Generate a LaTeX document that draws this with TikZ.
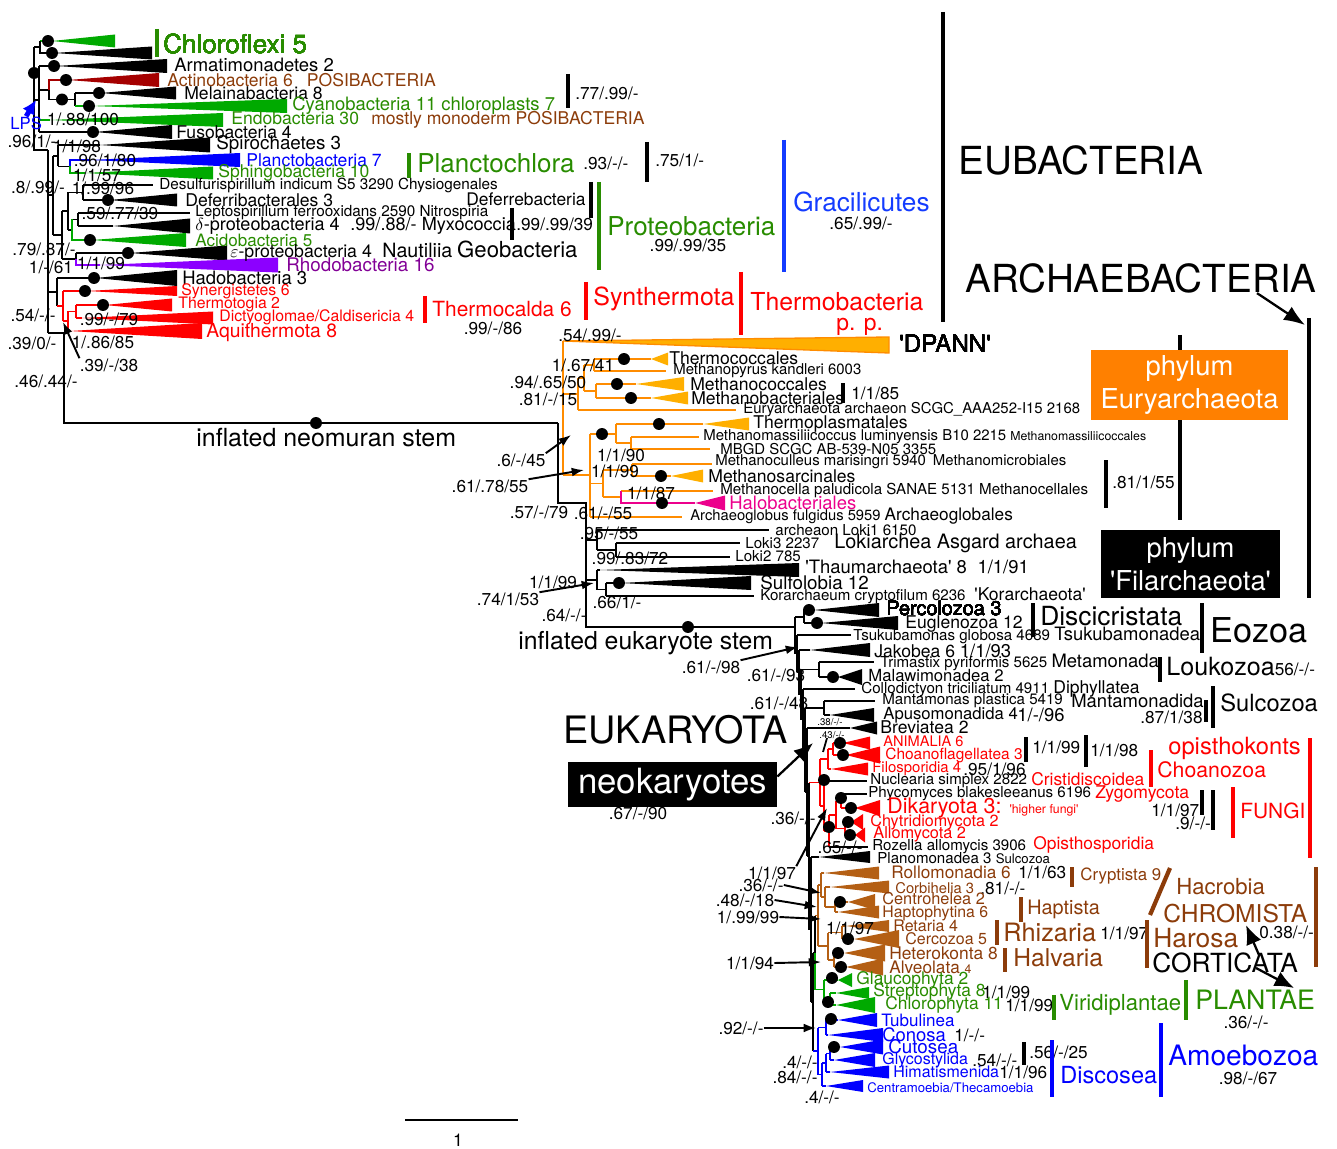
\documentclass[tikz,border=0pt]{standalone}
\usepackage{fontspec}
\setmainfont{TeX Gyre Heros}
\usetikzlibrary{arrows.meta}
\definecolor{grtri}{RGB}{0,170,0}
\definecolor{grtxt}{RGB}{40,140,0}
\definecolor{brtxt}{RGB}{140,60,10}
\definecolor{brtri}{RGB}{180,95,20}
\definecolor{dkred}{RGB}{165,0,0}
\definecolor{purtri}{RGB}{140,0,255}
\definecolor{purtxt}{RGB}{130,0,150}
\definecolor{orln}{RGB}{255,140,0}
\definecolor{ortri}{RGB}{255,175,0}
\definecolor{orbox}{RGB}{255,128,0}
\definecolor{gblue}{RGB}{20,60,255}
% collapsed clade: apex x, right x, y, half height, colour
\newcommand\clade[5]{\fill[#5] (#1,#3) -- (#2,{#3-#4}) -- (#2,{#3+#4}) -- cycle;}
\newcommand\dt[2]{\fill (#1,#2) circle[radius=3.4pt];}
\newcommand\qs{\textquotesingle}
\newcommand\fz[1]{\fontsize{#1}{#1}\selectfont}
\tikzset{
  lbl/.style={anchor=west, inner sep=0pt, font=\fontsize{#1}{#1}\selectfont},
  lbl/.default=10,
  bsv/.style={inner sep=0pt, font=\fontsize{#1}{#1}\selectfont},
  bsv/.default=9.8,
  tree/.style={line width=0.75pt},
  bar/.style={line width=2.4pt},
  pt/.style={-{Latex[length=7pt,width=5pt]}, line width=1.1pt},
  bigpt/.style={-{Latex[length=11pt,width=9pt]}, line width=1.3pt}
}
\begin{document}
\begin{tikzpicture}[x=0.02cm,y=-0.02cm]
\useasboundingbox (0,0) rectangle (1337,1148);
% ---------------- eubacteria
\clade{52}{115}{41}{6.5}{grtri}
\clade{54}{152}{53}{6.5}{black}
\clade{56}{167}{66}{7}{black}
\clade{68}{159}{80}{7}{dkred}
\clade{101}{176}{93}{6.5}{black}
\clade{91}{287}{106}{7}{grtri}
\clade{50}{223}{120}{7}{grtri}
\clade{95}{172}{132}{7}{black}
\clade{100}{210}{145}{7.5}{black}
\clade{90}{240}{160}{7}{blue}
\clade{85}{213}{173}{6.5}{grtri}
\clade{110}{177}{200}{6.5}{black}
\clade{113}{190}{226}{7.5}{black}
\clade{92}{186}{240}{7}{grtri}
\clade{130}{227}{253}{7.5}{black}
\clade{100}{278}{265}{7.5}{purtri}
\clade{96}{177}{278}{8}{black}
\clade{87}{177}{291}{5}{red}
\clade{105}{172}{305}{6.5}{red}
\clade{82}{213}{318}{6.5}{red}
\clade{70}{202}{331}{8}{red}
\draw[tree,grtri] (40,41) -- (52,41);
\draw[tree] (40,41) -- (40,53) -- (54,53) (34,47) -- (40,47)
  (34,47) -- (34,150) -- (48,150) (34,100) -- (39,100)
  (39,66) -- (39,132) (39,66) -- (56,66) (39,90) -- (49,90) (39,132) -- (95,132)
  (49,90) -- (49,99.5) -- (75,99.5) (75,93) -- (75,106) (75,93) -- (101,93);
\draw[tree,dkred] (49,90) -- (49,80) -- (68,80);
\draw[tree,grtri] (75,106) -- (91,106) (39,120) -- (50,120);
\draw[tree] (48,150) -- (48,333) (48,195) -- (53,195) (48,292) -- (57,292)
  (48,333) -- (64,333) -- (64,423) -- (558,423)
  (53,156) -- (53,235) (53,156) -- (58,156) (53,235) -- (62,235)
  (58,145) -- (58,166.5) (58,145) -- (100,145) (58,166.5) -- (70,166.5)
  (62,211) -- (62,259) (62,211) -- (68,211) (62,259) -- (76,259)
  (68,192.5) -- (68,230) (68,192.5) -- (83,192.5) (68,230) -- (72,230)
  (83,185) -- (83,200) (83,185) -- (153,185) (83,200) -- (110,200)
  (72,219.5) -- (78,219.5)
  (78,213) -- (78,226) (78,213) -- (190,213) (78,226) -- (113,226)
  (76,253) -- (76,259) (76,253) -- (130,253)
  (57,278) -- (57,306) (57,278) -- (96,278);
\draw[tree,blue] (70,166.5) -- (70,160) -- (90,160);
\draw[tree,grtri] (70,166.5) -- (70,173) -- (85,173) (72,219.5) -- (72,240) -- (92,240);
\draw[tree,purtri] (76,259) -- (76,265) -- (100,265);
\draw[tree,red] (57,306) -- (63,306) (63,291) -- (63,321) (63,291) -- (87,291) (63,321) -- (68,321)
  (68,311.5) -- (68,331) (68,311.5) -- (76,311.5) (68,331) -- (70,331)
  (76,305) -- (76,318) (76,305) -- (105,305) (76,318) -- (82,318);
\foreach \x/\y in {48/41,52/53,54/66,66/80,99/93,62/99.5,89/106,34/73,93/132,
  108/200,90/240,128/253,94/278,85/291,103/305,316/423}
  \dt{\x}{\y}
% eubacteria labels
\node[lbl=14.8,grtxt] (chlf) at (163,44) {Chloroflexi 5};
\draw[bar,grtxt] (157,29) -- (157,57);
\node[lbl=10.5] (arma) at (174,65) {Armatimonadetes 2};
\node[lbl,brtxt] (acti) at (167,80) {Actinobacteria 6\hspace{8pt}POSIBACTERIA};
\node[lbl] (mela) at (184,93) {Melainabacteria 8};
\node[lbl=10.5,grtxt] (cyan) at (292,106) {Cyanobacteria 11 chloroplasts 7};
\node[lbl] (endo) at (231,120) {\textcolor{grtxt}{Endobacteria 30}\hspace{7pt}\textcolor{brtxt}{mostly monoderm POSIBACTERIA}};
\node[lbl] (fuso) at (176,132) {Fusobacteria 4};
\node[lbl=10.7] (spir) at (216,145) {Spirochaetes 3};
\node[lbl,blue] (plnb) at (246,160) {Planctobacteria 7};
\node[lbl,grtxt] (sphi) at (218,173) {Sphingobacteria 10};
\node[lbl=8.7] (desu) at (159,185) {Desulfurispirillum indicum S5 3290 Chysiogenales};
\node[lbl] (defb) at (185,200) {Deferribacterales 3};
\node[lbl=8.7] (lept) at (195,213) {Leptospirillum ferrooxidans 2590 Nitrospiria};
\node[lbl=10.3] (delt) at (195,226) {$\delta$-proteobacteria 4\hspace{6pt}.99/.88/- Myxococcia};
\node[lbl=9.7,grtxt] (acid) at (195,240) {Acidobacteria 5};
\node[lbl=10.1] (epsi) at (230,251) {$\varepsilon$-proteobacteria 4\hspace{6pt}{\fz{11.2}Nautiliia} {\fz{12.6}Geobacteria}};
\node[lbl=10.7,purtxt] (rhod) at (286,265) {Rhodobacteria 16};
\node[lbl=10.5] (hado) at (182,278) {Hadobacteria 3};
\node[lbl=9,red] (syne) at (181,291) {Synergistetes 6};
\node[lbl=9,red] (ttog) at (178,304) {Thermotogia 2};
\node[lbl=9,red] (dict) at (219,317) {Dictyoglomae/Caldisericia 4};
\node[lbl=11,red] (aqui) at (206,333) {Aquithermota 8};
\node[lbl=9.5,blue] (lps) at (10,123) {LPS};
\draw[-{Latex[length=8pt,width=8pt]},line width=2.8pt,blue] (lps.north) -- (36,100);
% eubacteria support values
\node[bsv] (s1) at (32,141) {.96/1/-};
\node[bsv] (s2) at (83,119) {1/.88/100};
\node[bsv] (s3) at (77,146) {1/1/98};
\node[bsv] (s4) at (105,160) {.96/1/80};
\node[bsv] (s5) at (97,175) {1/1/57};
\node[bsv] (s6) at (38,187) {.8/.99/-};
\node[bsv] (s7) at (103,188) {1/.99/96};
\node[bsv] (s8) at (120,213) {.59/.77/39};
\node[bsv] (s9) at (44,249) {.79/.87/-};
\node[bsv] (s10) at (51,267) {1/-/61};
\node[bsv] (s11) at (101,263) {1/1/99};
\node[bsv] (s12) at (33,315) {.54/-/-};
\node[bsv] (s13) at (109,319) {.99/-/79};
\node[bsv] (s14) at (32,343) {.39/0/-};
\node[bsv] (s15) at (103,342) {1/.86/85};
\node[bsv] (s16) at (109,365) {.39/-/38};
\node[bsv] (s17) at (46,381) {.46/.44/-};
\coordinate (thr) at (63,322);
\draw[pt] (s16.north west) -- (thr);
% groups to the right of eubacteria
\node[bsv,anchor=west] (s18) at (575,93) {.77/.99/-};
\draw[bar] (568,74) -- (568,108);
\node[lbl=14.8,grtxt] (plch) at (417,163) {Planctochlora};
\draw[bar,grtxt] (409,153) -- (409,178);
\node[bsv,anchor=west] (s19) at (583,163) {.93/-/-};
\draw[bar] (647,142) -- (647,182);
\node[bsv,anchor=west] (s20) at (655,160) {.75/1/-};
\node[lbl=9.9] (defe) at (466,199) {Deferrebacteria};
\draw[bar] (591,182) -- (591,218);
\draw[bar,grtxt] (599,182) -- (599,270);
\draw[bar] (512,208) -- (512,240);
\node[bsv,anchor=west] (s21) at (516,224) {.99/.99/39};
\node[lbl=14.8,grtxt] (prot) at (607,226) {Proteobacteria};
\node[bsv] (s22) at (688,245) {.99/.99/35};
\node[lbl=14.9,gblue] (grac) at (793,202) {Gracilicutes};
\draw[bar,gblue] (784,140) -- (784,272);
\node[bsv] (s23) at (861,223) {.65/.99/-};
\node[lbl=22] (euba) at (958,160) {EUBACTERIA};
\draw[bar] (943,12) -- (943,322);
\node[lbl=11.9,red] (tcal) at (432,309) {Thermocalda 6};
\draw[bar,red] (425,296) -- (425,323);
\node[bsv] (s24) at (493,328) {.99/-/86};
\node[lbl=14.2,red] (synt) at (593,299) {Synthermota};
\draw[bar,red] (586,282) -- (586,320);
\node[lbl=14.1,red] (tbac) at (750,302) {Thermobacteria};
\node[lbl=13,red] (ppar) at (836,327) {p. p.};
\draw[bar,red] (741,272) -- (741,335);
\node[lbl=22] (arch) at (965,278) {ARCHAEBACTERIA};
\coordinate (archtop) at (1305,325);
\draw[-{Latex[length=12pt,width=9pt]},line width=1.3pt] (arch.south east) ++(-60,0) -- (archtop);
\draw[bar] (1309,318) -- (1309,598);
% ---------------- archaea
\filldraw[fill=ortri,draw=orln,tree] (563,341) -- (889,337) -- (889,353) -- cycle;
\clade{651}{668}{359}{6.5}{ortri}
\clade{636}{684}{384}{7}{ortri}
\clade{651}{688}{398}{6.5}{ortri}
\clade{703}{749}{424}{6.5}{ortri}
\clade{671}{703}{476}{6.5}{ortri}
\clade{695}{725}{503}{7.5}{magenta}
\clade{600}{799}{570}{7}{black}
\clade{621}{751}{583}{7}{black}
\draw[tree] (558,423) -- (558,503) -- (586,503) -- (586,627) -- (795,627)
  (586,540) -- (597,540) (597,530) -- (597,550) (597,530) -- (769,530) (597,550) -- (616,550)
  (616,543) -- (616,557) (616,543) -- (740,543) (616,557) -- (730,557)
  (586,580) -- (597,580) (597,570) -- (597,589.5) (597,570) -- (600,570) (597,589.5) -- (606,589.5)
  (606,583) -- (606,596) (606,583) -- (621,583) (606,596) -- (754,596);
\draw[tree,orln] (563,341) -- (563,475) (563,394) -- (578,394) (563,475) -- (590,475)
  (578,378) -- (578,410) (578,378) -- (584,378) (578,410) -- (736,410)
  (584,365) -- (584,391) (584,365) -- (594,365) (584,391) -- (596,391)
  (594,359) -- (594,371) (594,359) -- (651,359) (594,371) -- (666,371)
  (596,384) -- (596,398) (596,384) -- (636,384) (596,398) -- (651,398)
  (590,434) -- (590,517) (590,434) -- (616,434) (590,483.5) -- (603,483.5) (590,517) -- (682,517)
  (616,424) -- (616,443) (616,424) -- (703,424) (616,443) -- (631,443)
  (631,437) -- (631,449) (631,437) -- (699,437) (631,449) -- (710,449)
  (603,470) -- (603,497) (603,470) -- (632,470) (603,497) -- (621,497)
  (632,464) -- (632,476) (632,464) -- (712,464) (632,476) -- (671,476)
  (621,491) -- (713,491);
\draw[tree,magenta] (621,491) -- (621,503) -- (695,503);
\foreach \x/\y in {624/359,617/384,631/398,659/424,602/434,661/476,662/503,619/583,688/627}
  \dt{\x}{\y}
% archaea labels
\node[lbl=13.7] (dpan) at (899,344) {\qs DPANN\qs};
\node[lbl] (tcoc) at (669,358) {Thermococcales};
\node[lbl=8.5] (mpyr) at (673,371) {Methanopyrus kandleri 6003};
\node[lbl] (mcoc) at (690,384) {Methanococcales};
\node[lbl] (mbac) at (691,398) {Methanobacteriales};
\draw[bar] (843,383) -- (843,403);
\node[bsv,anchor=west] (s25) at (851,393) {1/1/85};
\node[lbl=8.5] (eurs) at (743,410) {Euryarchaeota archaeon SCGC\_AAA252-I15 2168};
\node[lbl] (tpla) at (753,424) {Thermoplasmatales};
\node[lbl=8.5] (mmas) at (703,437) {Methanomassiliicoccus luminyensis B10 2215 {\fz{7}Methanomassiliicoccales}};
\node[lbl=8.5] (mbgd) at (720,449) {MBGD SCGC AB-539-N05 3355};
\node[lbl=8.5] (mcul) at (715,462) {Methanoculleus marisingri 5940\hspace{4pt}Methanomicrobiales};
\node[lbl] (msar) at (708,476) {Methanosarcinales};
\node[lbl=8.6] (mcel) at (720,491) {Methanocella paludicola SANAE 5131 Methanocellales};
\node[lbl=10.5,magenta] (halo) at (729,503) {Halobacteriales};
\node[lbl=8.4] (aglo) at (690,516) {Archaeoglobus fulgidus 5959 {\fz{9.8}Archaeoglobales}};
\node[lbl=8.6] (lok1) at (775,530) {archeaon Loki1 6150};
\node[lbl=8.6] (lok3) at (745,543) {Loki3 2237};
\node[lbl=8.6] (lok2) at (735,556) {Loki2 785};
\node[lbl=11.3] (asga) at (834,543) {Lokiarchea Asgard archaea};
\node[lbl=10.5] (thau) at (805,567) {\qs Thaumarchaeota\qs\ 8\hspace{6pt}1/1/91};
\node[lbl=10.7] (sulf) at (760,583) {Sulfolobia 12};
\node[lbl=8.6] (kora) at (760,596) {Korarchaeum cryptofilum 6236\hspace{5pt}{\fz{10}\qs Korarchaeota\qs}};
\node[bsv] (s26) at (590,335) {.54/.99/-};
\node[bsv] (s27) at (583,365) {1/.67/41};
\node[bsv] (s28) at (548,382) {.94/.65/50};
\node[bsv] (s29) at (548,399) {.81/-/15};
\node[bsv] (s30) at (621,455) {1/1/90};
\node[bsv] (s31) at (615,471) {1/1/99};
\node[bsv] (s32) at (651,493) {1/1/87};
\node[bsv] (s33) at (603,513) {.61/-/55};
\node[bsv] (s34) at (539,512) {.57/-/79};
\node[bsv] (s35) at (521,460) {.6/-/45};
\node[bsv] (s36) at (490,486) {.61/.78/55};
\node[bsv] (s37) at (609,533) {.95/-/55};
\node[bsv] (s38) at (630,558) {.99/.83/72};
\node[bsv] (s39) at (553,582) {1/1/99};
\node[bsv] (s40) at (508,599) {.74/1/53};
\node[bsv] (s41) at (617,602) {.66/1/-};
\node[bsv] (s42) at (564,615) {.64/-/-};
\coordinate (c35) at (571,435);
\coordinate (c36) at (584,470);
\coordinate (c40) at (594,583);
\draw[pt] (s35.north east) -- (c35);
\draw[pt] (s36.north east) -- (c36);
\draw[pt] (s40.north east) -- (c40);
\node[lbl=14.2] (neom) at (196,438) {inflated neomuran stem};
\node[lbl=14.1] (eust) at (518,643) {inflated eukaryote stem};
% phylum boxes
\draw[bar] (1180,335) -- (1180,520);
\node[fill=orbox,text=white,minimum width=3.94cm,minimum height=1.4cm,inner sep=0pt,align=center,
  font=\fz{15.6}] (eury) at (1189.5,385) {phylum\\[3pt]Euryarchaeota};
\draw[bar] (1106,460) -- (1106,508);
\node[bsv,anchor=west] (s43) at (1112,482) {.81/1/55};
\node[fill=black,text=white,minimum width=3.58cm,minimum height=1.36cm,inner sep=0pt,align=center,
  font=\fz{15.6}] (filb) at (1190.5,564) {phylum\\[3pt]\qs Filarchaeota\qs};
% ---------------- eukaryotes
\clade{814}{879}{610}{7}{black}
\clade{821}{898}{623}{7}{black}
\clade{810}{870}{650}{7}{black}
\clade{838}{862}{677}{8}{black}
\clade{830}{874}{715}{7}{black}
\clade{850}{877}{728}{6.5}{black}
\clade{843}{870}{743}{6.5}{red}
\clade{846}{880}{755}{8.5}{red}
\clade{831}{868}{769}{6.5}{red}
\clade{855}{880}{808}{8}{red}
\clade{851}{863}{822}{8}{red}
\clade{855}{865}{835}{7.5}{red}
\clade{819}{870}{857}{6}{black}
\clade{824}{879}{873}{6.5}{brtri}
\clade{830}{889}{887}{6.5}{brtri}
\clade{848}{875}{902}{8}{brtri}
\clade{838}{879}{912}{6.5}{brtri}
\clade{846}{889}{926}{6}{brtri}
\clade{854}{899}{939}{9}{brtri}
\clade{844}{885}{953}{8.5}{brtri}
\clade{846}{883}{967}{8.5}{brtri}
\clade{838}{852}{980}{7}{grtri}
\clade{836}{869}{993}{6}{grtri}
\clade{836}{875}{1005}{8}{grtri}
\clade{838}{877}{1020}{7}{blue}
\clade{828}{883}{1035}{7}{blue}
\clade{840}{883}{1047}{7.5}{blue}
\clade{834}{875}{1060}{7}{blue}
\clade{830}{889}{1072}{6.5}{blue}
\clade{826}{863}{1086}{6}{blue}
\draw[tree] (795,617) -- (795,653.5) (795,617) -- (804,617) (795,653.5) -- (797,653.5)
  (797,635) -- (797,672) (797,635) -- (851,635) (797,672) -- (799,672)
  (799,650) -- (799,694.5) (799,650) -- (810,650) (799,694.5) -- (801,694.5)
  (801,669.5) -- (801,719.5) (801,669.5) -- (819,669.5) (801,719.5) -- (803,719.5)
  (803,689) -- (803,750) (803,689) -- (855,689) (803,750) -- (805,750)
  (805,708) -- (805,792) (805,708) -- (824,708) (805,792) -- (807,792)
  (807,728) -- (807,856) (807,728) -- (850,728) (807,856) -- (809,856)
  (809,782.5) -- (809,929.5) (809,929.5) -- (811,929.5)
  (811,857) -- (811,1002) (811,857) -- (819,857) (811,1002) -- (813,1002)
  (813,952.5) -- (813,1051) (813,952.5) -- (815,952.5)
  (804,610) -- (804,623) (804,610) -- (814,610) (804,623) -- (821,623)
  (819,662) -- (819,677) (819,662) -- (874,662) (819,677) -- (838,677)
  (824,701) -- (824,715) (824,701) -- (875,701) (824,715) -- (830,715)
  (829,847) -- (868,847) (824,781) -- (867,781) (841,794) -- (867,794);
\draw[tree,red] (809,782.5) -- (820,782.5)
  (820,759) -- (820,806) (820,759) -- (828,759) (820,806) -- (824,806)
  (828,749) -- (828,769) (828,749) -- (833,749) (828,769) -- (831,769)
  (833,743) -- (833,755) (833,743) -- (843,743) (833,755) -- (846,755)
  (824,781) -- (824,831) (824,831) -- (829,831)
  (829,815) -- (829,847) (829,815) -- (836,815)
  (836,801) -- (836,828.5) (836,801) -- (841,801) (836,828.5) -- (845,828.5)
  (841,794) -- (841,808) (841,808) -- (855,808)
  (845,822) -- (845,835) (845,822) -- (851,822) (845,835) -- (855,835);
\draw[tree,brtri] (815,915.5) -- (818,915.5)
  (818,885) -- (818,946) (818,885) -- (821,885) (818,946) -- (828,946)
  (821,873) -- (821,897) (821,873) -- (824,873) (821,897) -- (825,897)
  (825,887) -- (825,907) (825,887) -- (830,887) (825,907) -- (835,907)
  (835,902) -- (835,912) (835,902) -- (848,902) (835,912) -- (838,912)
  (828,932.5) -- (828,960) (828,932.5) -- (842,932.5) (828,960) -- (834,960)
  (842,926) -- (842,939) (842,926) -- (846,926) (842,939) -- (854,939)
  (834,953) -- (834,967) (834,953) -- (844,953) (834,967) -- (846,967);
\draw[tree] (815,915.5) -- (815,952.5);
\draw[tree,grtri] (815,952.5) -- (815,989.5) -- (824,989.5)
  (824,980) -- (824,999) (824,980) -- (838,980) (824,999) -- (830,999)
  (830,993) -- (830,1005) (830,993) -- (836,993) (830,1005) -- (836,1005);
\draw[tree,blue] (813,1051) -- (818,1051)
  (818,1027.5) -- (818,1074.5) (818,1027.5) -- (826,1027.5) (818,1074.5) -- (822,1074.5)
  (826,1020) -- (826,1035) (826,1020) -- (838,1020) (826,1035) -- (828,1035)
  (822,1063) -- (822,1086) (822,1063) -- (826,1063) (822,1086) -- (826,1086)
  (826,1053.5) -- (826,1072) (826,1053.5) -- (830,1053.5) (826,1072) -- (830,1072)
  (830,1047) -- (830,1060) (830,1047) -- (840,1047) (830,1060) -- (834,1060);
\foreach \x/\y in {809/610,817/623,833/677,840/743,843/755,824/780,841/798,851/808,
  848/822,850/835,829/827,840/902,848/939,838/953,841/967,832/978,828/1002,831/1019,834/1047}
  \dt{\x}{\y}
% eukaryote labels
\node[lbl=11.3] (perc) at (886,608) {Percolozoa 3};
\node[lbl] (eugl) at (905,624) {Euglenozoa 12};
\node[lbl=15] (disc) at (1040,616) {Discicristata};
\draw[bar] (1033,603) -- (1033,637);
\node[lbl=8.6] (tsuk) at (853,635) {Tsukubamonas globosa 4689 {\fz{10.5}Tsukubamonadea}};
\node[lbl=19.5] (eozo) at (1210,630) {Eozoa};
\draw[bar] (1202,603) -- (1202,653);
\node[lbl] (jako) at (874,651) {Jakobea 6 {\fz{10.5}1/1/93}};
\node[lbl=8.6] (trim) at (880,662) {Trimastix pyriformis 5625 {\fz{10.5}Metamonada}};
\node[lbl=9.5] (malw) at (868,676) {Malawimonadea 2};
\node[lbl=14.3] (louk) at (1166,667) {Loukozoa{\fz{9.8}56/-/-}};
\draw[bar] (1160,657) -- (1160,682);
\node[lbl=8.6] (coll) at (861,689) {Collodictyon triciliatum 4911 {\fz{10}Diphyllatea}};
\node[lbl=8.6] (mant) at (882,701) {Mantamonas plastica 5419};
\node[lbl=10.5] (manf) at (1071,701) {Mantamonadida};
\node[bsv,anchor=west] (s44) at (1140,717) {.87/1/38};
\draw[bar] (1206,700) -- (1206,722);
\draw[bar] (1213,686) -- (1213,728);
\node[lbl=13.5] (sulc) at (1220,703) {Sulcozoa};
\node[lbl=9.5] (apus) at (883,715) {Apusomonadida 4};
\node[bsv=10.5,anchor=west] (s45) at (1017,715) {1/-/96};
\node[lbl] (brev) at (880,727) {Breviatea 2};
\node[bsv=5.5] (s46) at (830,722) {.38/-/-};
\node[bsv=5.5] (s47) at (832,735) {.43/-/-};
\draw[line width=1pt] (827,738) -- (823,752);
\node[bsv] (s48) at (711,667) {.61/-/98};
\node[bsv] (s49) at (776,675) {.61/-/93};
\node[bsv] (s50) at (779,703) {.61/-/48};
\coordinate (c48) at (798,647);
\draw[pt] (s48.north east) -- (c48);
\node[lbl=21.5] (euka) at (563,730) {EUKARYOTA};
\node[fill=black,text=white,minimum width=4.18cm,minimum height=0.9cm,inner sep=0pt,
  font=\fz{19.8}] (neok) at (672.5,784.5) {neokaryotes};
\coordinate (cneo) at (813,743);
\draw[bigpt] (neok.east) ++(0,-8) -- (cneo);
\node[bsv] (s51) at (638,813) {.67/-/90};
\node[bsv] (s52) at (793,818) {.36/-/-};
% opisthokonts
\node[lbl=8.3,red] (anim) at (883,741) {ANIMALIA 6};
\node[lbl=8.8,red] (choa) at (885,755) {Choanoflagellatea 3};
\node[lbl=8.5,red] (filo) at (872,769) {Filosporidia 4};
\node[bsv,anchor=west] (s53) at (963,769) {.95/1/96};
\draw[bar] (1026,737) -- (1026,762);
\node[bsv,anchor=west] (s54) at (1032,747) {1/1/99};
\draw[bar] (1086,735) -- (1086,767);
\node[bsv,anchor=west] (s55) at (1090,750) {1/1/98};
\node[lbl=8.6] (nucl) at (870,781) {Nuclearia simplex 2822};
\node[lbl=9.9,red] (cris) at (1031,779) {Cristidiscoidea};
\draw[bar,red] (1151,750) -- (1151,787);
\node[lbl=12.1,red] (chzo) at (1157,770) {Choanozoa};
\node[lbl=13.5,red] (opis) at (1168,748) {opisthokonts};
\draw[bar,red] (1310,738) -- (1310,858);
\node[lbl=8.6] (phyc) at (868,794) {Phycomyces blakesleeanus 6196};
\node[lbl=10,red] (zygo) at (1095,794) {Zygomycota};
\node[lbl=12.2,red] (dika) at (887,808) {Dikaryota 3: {\fz{7}\qs higher fungi\qs}};
\node[lbl=9.2,red] (chyt) at (870,822) {Chytridiomycota 2};
\node[lbl=9.3,red] (allo) at (873,834) {Allomycota 2};
\node[bsv,anchor=west] (s56) at (1151,810) {1/1/97};
\node[bsv,anchor=west] (s57) at (1175,823) {.9/-/-};
\draw[bar] (1202,790) -- (1202,815);
\draw[bar] (1213,790) -- (1213,830);
\draw[bar,red] (1233,787) -- (1233,838);
\node[lbl=11.9,red] (fung) at (1240,811) {FUNGI};
\node[bsv] (s58) at (840,847) {.65/-/-};
\node[lbl=8.6] (roze) at (872,847) {Rozella allomycis 3906};
\node[lbl=9.9,red] (opsp) at (1033,845) {Opisthosporidia};
\node[lbl=8.6] (plan) at (877,858) {Planomonadea 3 {\fz{7.5}Sulcozoa}};
% chromista
\node[lbl=9.8,brtxt] (roll) at (891,872) {Rollomonadia 6};
\node[bsv,anchor=west] (s59) at (1018,872) {1/1/63};
\draw[bar,brtxt] (1072,867) -- (1072,887);
\node[lbl=9.6,brtxt] (cryp) at (1080,876) {Cryptista 9};
\draw[bar,brtxt] (1150,915) -- (1170,868);
\node[lbl=12.6,brtxt] (hacr) at (1176,887) {Hacrobia};
\node[lbl=8.4,brtxt] (corb) at (895,888) {Corbihelia 3};
\node[bsv,anchor=west] (s60) at (980,888) {.81/-/-};
\node[lbl=9.3,brtxt] (cent) at (882,899) {Centrohelea 2};
\node[lbl=9,brtxt] (hapt) at (882,913) {Haptophytina 6};
\draw[bar,brtxt] (1021,897) -- (1021,922);
\node[lbl=11.3,brtxt] (hpta) at (1027,909) {Haptista};
\node[lbl=14,brtxt] (chro) at (1163,914) {CHROMISTA};
\node[lbl=9.1,brtxt] (reta) at (893,926) {Retaria 4};
\node[lbl=9.1,brtxt] (cerc) at (905,939) {Cercozoa 5};
\node[lbl=9.9,brtxt] (hete) at (889,953) {Heterokonta 8};
\node[lbl=9.8,brtxt] (alve) at (889,967) {Alveolata {\fz{7}4}};
\node[bsv] (s61) at (850,928) {1/1/97};
\draw[bar,brtxt] (997,920) -- (997,945);
\node[lbl=14.4,brtxt] (rhiz) at (1003,932) {Rhizaria};
\node[bsv,anchor=west] (s62) at (1100,933) {1/1/97};
\draw[bar,brtxt] (1005,948) -- (1005,972);
\node[lbl=14,brtxt] (halv) at (1013,958) {Halvaria};
\draw[bar,brtxt] (1147,920) -- (1147,968);
\node[lbl=15,brtxt] (haro) at (1153,938) {Harosa};
\node[lbl=15] (cort) at (1152,963) {CORTICATA};
\node[bsv,anchor=west] (s63) at (1259,932) {0.38/-/-};
\draw[bar,brtxt] (1316,867) -- (1316,967);
\coordinate (cchr) at (1246,925);
\coordinate (cpla) at (1294,988);
\draw[bigpt] (1259,955) -- (cchr);
\draw[bigpt] (1256,968) -- (cpla);
\node[bsv] (s64) at (772,873) {1/1/97};
\node[bsv] (s65) at (761,885) {.36/-/-};
\node[bsv] (s66) at (745,900) {.48/-/18};
\node[bsv] (s67) at (748,917) {1/.99/99};
\node[bsv] (s68) at (750,963) {1/1/94};
\coordinate (c64) at (827,808);
\coordinate (c65) at (821,893);
\coordinate (c66) at (817,907);
\coordinate (c67) at (821,919);
\coordinate (c68) at (821,962);
\draw[pt] (s64.north east) -- (c64);
\draw[pt] (s65.east) -- (c65);
\draw[pt] (s66.east) -- (c66);
\draw[pt] (s67.east) -- (c67);
\draw[pt] (s68.east) -- (c68);
% plantae
\node[lbl=9.9,grtxt] (glau) at (856,980) {Glaucophyta 2};
\node[lbl=9.9,grtxt] (stre) at (873,992) {Streptophyta 8};
\node[bsv,anchor=west] (s69) at (982,992) {1/1/99};
\node[lbl=9.9,grtxt] (chlo) at (885,1005) {Chlorophyta 11};
\node[bsv,anchor=west] (s70) at (1005,1005) {1/1/99};
\draw[bar,grtxt] (1054,995) -- (1054,1020);
\node[lbl=12.6,grtxt] (viri) at (1059,1005) {Viridiplantae};
\draw[bar,grtxt] (1186,980) -- (1186,1020);
\node[lbl=15.2,grtxt] (plnt) at (1195,1000) {PLANTAE};
\node[bsv] (s71) at (1246,1022) {.36/-/-};
% amoebozoa
\node[lbl=9.7,blue] (tubu) at (881,1020) {Tubulinea};
\node[lbl=10.5,blue] (cono) at (882,1035) {Conosa};
\node[bsv,anchor=west] (s72) at (954,1035) {1/-/-};
\node[lbl=10.7,blue] (cuto) at (888,1047) {Cutosea};
\node[lbl=9.1,blue] (glyc) at (882,1060) {Glycostylida};
\node[bsv,anchor=west] (s73) at (972,1060) {.54/-/-};
\draw[bar] (1024,1042) -- (1024,1065);
\node[bsv,anchor=west] (s74) at (1029,1052) {.56/-/25};
\node[lbl=9.1,blue] (hima) at (893,1072) {Himatismenida};
\node[bsv,anchor=west] (s75) at (999,1072) {1/1/96};
\node[lbl=7.5,blue] (cent2) at (867,1088) {Centramoebia/Thecamoebia};
\draw[bar,blue] (1052,1040) -- (1052,1097);
\node[lbl=13.4,blue] (disa) at (1060,1075) {Discosea};
\draw[bar,blue] (1161,1023) -- (1161,1097);
\node[lbl=16,blue] (amoe) at (1168,1055) {Amoebozoa};
\node[bsv] (s76) at (1248,1078) {.98/-/67};
\node[bsv] (s77) at (741,1028) {.92/-/-};
\coordinate (c77) at (816,1028);
\draw[pt] (s77.east) -- (c77);
\node[bsv] (s78) at (800,1062) {.4/-/-};
\node[bsv] (s79) at (795,1077) {.84/-/-};
\node[bsv] (s80) at (822,1097) {.4/-/-};
% scale bar
\draw[tree] (405,1120) -- (518,1120);
\node[bsv=10] (sc) at (458,1140) {1};
\end{tikzpicture}
\end{document}
